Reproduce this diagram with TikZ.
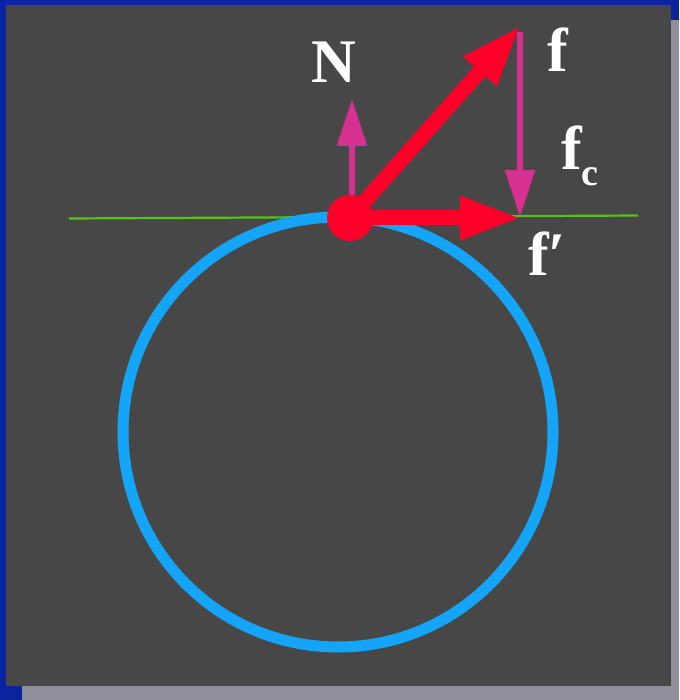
\documentclass[tikz,border=0pt]{standalone}
\usepackage{fontspec}
\setmainfont{Liberation Serif}
\usetikzlibrary{arrows.meta}
\definecolor{frameblue}{HTML}{0A24A0}
\definecolor{framegray}{HTML}{8E8E9C}
\definecolor{panel}{HTML}{474747}
\definecolor{ringblue}{HTML}{14A5F8}
\definecolor{forcered}{HTML}{FF0028}
\definecolor{compmag}{HTML}{D63090}
\definecolor{tangent}{HTML}{52C614}
\tikzset{
  redvec/.style={draw=forcered, line width=15pt, -{Triangle[length=62pt,width=40pt]}},
  magvec/.style={draw=compmag, line width=6pt, -{Triangle[length=47pt,width=29pt]}},
  lbl/.style={text=white, font=\fontsize{62}{62}\selectfont\bfseries, inner sep=0pt, anchor=base},
}
\begin{document}
\begin{tikzpicture}[x=1pt,y=-1pt]
\useasboundingbox (0,0) rectangle (679,700);
\fill[frameblue] (0,0) rectangle (679,700);
\fill[framegray] (22,20) rectangle (679,700);
\fill[panel] (6,5) rectangle (671,686);
% tangent line
\coordinate (tl) at (69,218.5);
\coordinate (tr) at (638,215.5);
\draw[tangent, line width=2.2pt] (tl) -- (tr);
% ring
\node[draw=ringblue, line width=11pt, circle, minimum size=430pt, inner sep=0pt] (ring) at (338,432) {};
% points
\coordinate (P) at (350,218);
\coordinate (Ftip) at (521,25);
\coordinate (Fptip) at (522,218);
\coordinate (Ntip) at (352,99);
\coordinate (Fctop) at (520,32);
\coordinate (Fcend) at (520,217);
% component arrows
\draw[magvec] (P -| Ntip) -- (Ntip);
\draw[magvec] (Fctop) -- (Fcend);
% force arrows
\draw[redvec] (P) -- (Ftip);
\draw[redvec] (P) -- (Fptip);
\node[fill=forcered, circle, minimum size=46pt, inner sep=0pt] (dot) at (P) {};
% labels
\node[lbl] (N) at (334,83) {N};
\node[lbl] (f) at (558,72) {f};
\node[lbl, anchor=base west] (fc) at (561,170) {f\raisebox{-0.25em}{\fontsize{38}{38}\selectfont\bfseries c}};
\node[lbl, anchor=base west] (fp) at (528,275) {f′};
\end{tikzpicture}
\end{document}
